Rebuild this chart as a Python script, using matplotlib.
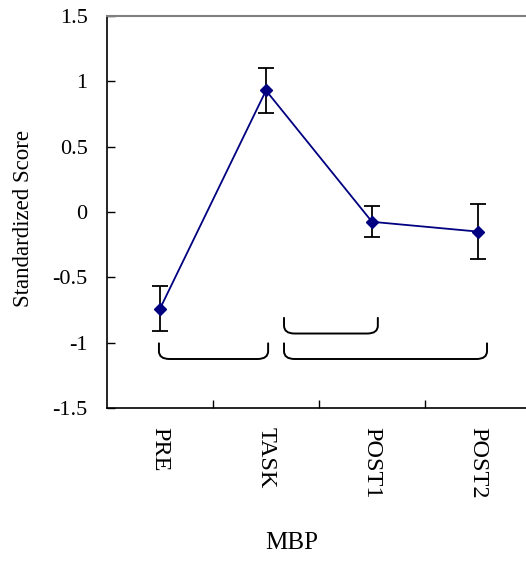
import matplotlib
matplotlib.use("Agg")
import matplotlib.pyplot as plt
from matplotlib.path import Path
from matplotlib.patches import PathPatch

plt.rcParams['font.family'] = ['Liberation Serif', 'DejaVu Serif']

phases = ["PRE", "TASK", "POST1", "POST2"]
scores = [-0.74, 0.93, -0.075, -0.15]
errors = [0.17, 0.17, 0.12, 0.21]
yticks = [-1.5, -1, -0.5, 0, 0.5, 1, 1.5]
ytick_labels = ["-1.5", "-1", "-0.5", "0", "0.5", "1", "1.5"]

# brackets marking compared phases: (x start, x end, y top, y bottom)
brackets = [
    (-0.01, 1.02, -1.005, -1.125),
    (1.17, 3.085, -1.005, -1.125),
    (1.17, 2.055, -0.81, -0.93),
]

fig = plt.figure(figsize=(5.26, 5.61), dpi=100)
W, H = 526, 561
ax = fig.add_axes([107 / W, 153 / H, 424 / W, 392 / H])

xs = list(range(len(phases)))
ax.errorbar(xs, scores, yerr=errors, fmt='none', ecolor='black',
            elinewidth=1.3, capsize=5.8, capthick=1.3, zorder=2)
ax.plot(xs, scores, color='#000080', lw=1.3, marker='D', ms=6.5,
        mfc='#000080', mec='#000080', zorder=3)


def bracket(ax, x0, x1, ytop, ybot):
    rx = 0.1
    ry = 0.06
    verts = [(x0, ytop), (x0, ybot + ry), (x0, ybot), (x0 + rx, ybot),
             (x1 - rx, ybot), (x1, ybot), (x1, ybot + ry), (x1, ytop)]
    codes = [Path.MOVETO, Path.LINETO, Path.CURVE3, Path.CURVE3,
             Path.LINETO, Path.CURVE3, Path.CURVE3, Path.LINETO]
    ax.add_patch(PathPatch(Path(verts, codes), fill=False, lw=1.4,
                           ec='black', capstyle='round'))


for b in brackets:
    bracket(ax, *b)

ax.set_xlim(-0.5, 3.5)
ax.set_ylim(-1.5, 1.5)
ax.set_yticks(yticks)
ax.set_yticklabels(ytick_labels)
ax.set_xticks(xs)
ax.set_xticklabels(phases, rotation=-90)
ax.set_xticks([0.5, 1.5, 2.5], minor=True)

ax.tick_params(axis='y', direction='in', length=6, width=1, pad=14,
               labelsize=16)
ax.tick_params(axis='x', which='major', length=0, pad=14, labelsize=17.5)
ax.tick_params(axis='x', which='minor', direction='in', length=6, width=1)

ax.spines['right'].set_visible(False)
ax.spines['top'].set_color('#808080')
ax.spines['top'].set_linewidth(1.5)
ax.spines['left'].set_linewidth(1.2)
ax.spines['bottom'].set_linewidth(1.2)

fig.text(24 / W, 1 - 218 / H, "Standardized Score", rotation=90,
         ha='center', va='center', fontsize=16.5)
fig.text(292 / W, 1 - 543 / H, "MBP", ha='center', va='center',
         fontsize=18)

fig.savefig("out.png", dpi=100)
